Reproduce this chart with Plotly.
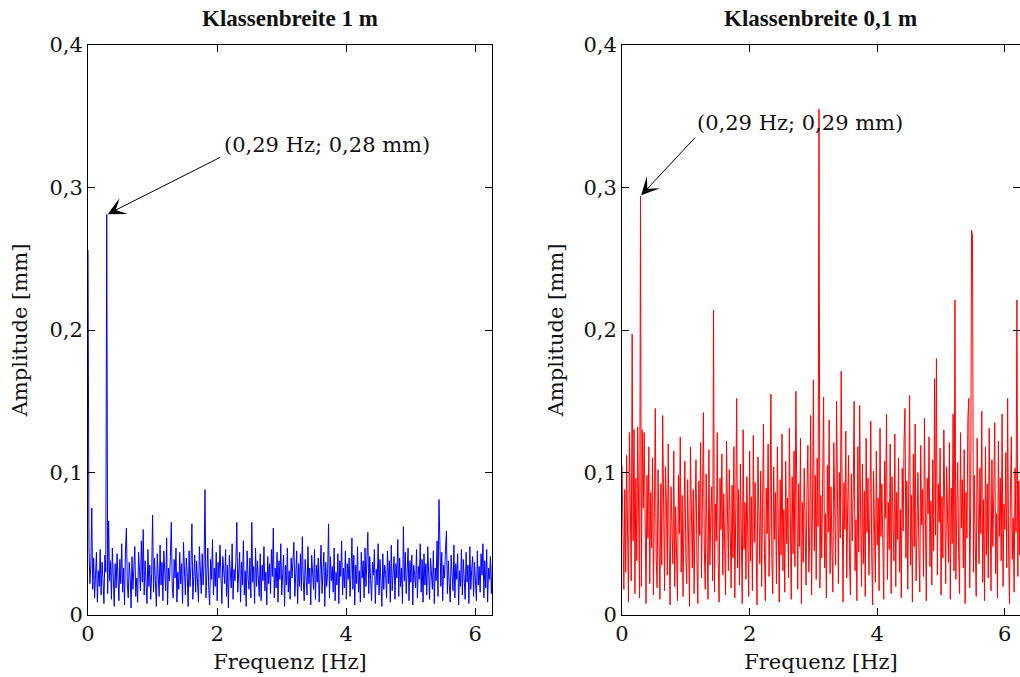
import numpy as np
import plotly.graph_objects as go

# Frequency resolution of both amplitude spectra (Hz)
df_hz = 0.0145

# Amplitude spectrum, class width 1 m (values in µm)
amp_1m_um = [
    256, 48, 22, 35, 75, 18, 40, 12, 28, 44, 9, 31, 20, 46, 14, 37, 25, 8, 42, 30,
    281, 15, 66, 24, 38, 11, 47, 29, 6, 36, 19, 43, 27, 10, 39, 22, 50, 16, 33, 7,
    45, 61, 21, 12, 37, 28, 5, 41, 18, 34, 48, 13, 26, 9, 44, 31, 17, 52, 23, 60,
    14, 38, 27, 8, 46, 20, 35, 11, 29, 70, 16, 40, 24, 6, 43, 32, 13, 49, 21, 37,
    10, 45, 28, 17, 54, 7, 33, 24, 41, 65, 19, 12, 39, 26, 47, 9, 30, 18, 44, 22,
    36, 8, 51, 25, 14, 40, 29, 6, 45, 20, 34, 64, 11, 27, 42, 16, 38, 23, 9, 48,
    31, 15, 43, 21, 36, 88, 12, 28, 47, 18, 7, 39, 25, 53, 14, 33, 20, 44, 10, 37,
    26, 49, 17, 8, 41, 30, 22, 46, 13, 35, 5, 42, 27, 19, 50, 11, 32, 24, 38, 65,
    16, 29, 44, 9, 37, 21, 52, 14, 31, 6, 45, 26, 18, 40, 12, 65, 23, 34, 8, 47,
    20, 38, 28, 13, 43, 10, 35, 24, 48, 17, 30, 7, 41, 22, 36, 15, 46, 27, 61, 12,
    33, 19, 44, 9, 38, 25, 50, 14, 29, 42, 6, 35, 21, 47, 16, 31, 11, 40, 26, 37,
    51, 13, 28, 45, 8, 36, 20, 43, 17, 55, 24, 10, 39, 30, 14, 48, 22, 33, 7, 42,
    27, 18, 46, 11, 35, 23, 40, 9, 31, 49, 15, 26, 44, 6, 37, 20, 29, 64, 12, 41,
    24, 34, 16, 47, 10, 30, 21, 43, 8, 38, 27, 52, 14, 33, 19, 45, 11, 36, 25, 40,
    13, 29, 54, 18, 42, 7, 35, 22, 48, 16, 31, 9, 44, 26, 38, 12, 47, 20, 34, 58,
    15, 41, 25, 10, 37, 28, 46, 8, 32, 21, 50, 14, 39, 24, 6, 43, 18, 35, 29, 12,
    45, 22, 38, 9, 49, 17, 30, 41, 11, 36, 26, 53, 13, 40, 20, 33, 8, 62, 24, 44,
    15, 31, 47, 10, 38, 23, 42, 7, 35, 28, 19, 46, 12, 34, 25, 50, 16, 39, 9, 43,
    21, 36, 14, 48, 27, 11, 40, 30, 18, 45, 8, 33, 24, 52, 13, 81, 37, 20, 44, 10,
    35, 26, 47, 59, 15, 38, 22, 9, 42, 29, 17, 49, 12, 36, 25, 43, 7, 31, 20, 46,
    14, 39, 27, 11, 44, 23, 35, 8, 48, 18, 32, 41, 13, 37, 24, 10, 45, 21, 34, 16,
    43, 28, 50, 12, 38, 19, 46, 9, 33, 25, 41, 15, 36,
]

# Amplitude spectrum, class width 0.1 m (values in µm)
amp_01m_um = [
    105, 62, 18, 88, 30, 112, 45, 9, 128, 70, 24, 197, 52, 130, 15, 96, 38, 132, 60, 12,
    294, 20, 130, 75, 128, 35, 8, 98, 54, 118, 22, 86, 47, 110, 14, 72, 145, 40, 19, 102,
    66, 11, 92, 35, 140, 58, 17, 104, 80, 28, 120, 49, 7, 90, 63, 36, 115, 20, 76, 44,
    10, 98, 57, 125, 30, 84, 13, 69, 108, 41, 22, 95, 61, 6, 118, 50, 33, 88, 15, 73,
    109, 39, 8, 94, 56, 121, 26, 81, 142, 47, 18, 99, 64, 11, 116, 35, 70, 90, 24, 214,
    16, 78, 52, 128, 37, 9, 96, 60, 113, 28, 85, 43, 14, 122, 67, 31, 102, 55, 19, 91,
    40, 118, 12, 74, 152, 33, 88, 21, 106, 58, 8, 130, 46, 79, 25, 97, 64, 13, 115, 38,
    83, 17, 126, 51, 93, 29, 7, 111, 62, 36, 101, 20, 77, 134, 44, 10, 89, 57, 120, 27,
    68, 155, 39, 15, 104, 53, 86, 22, 118, 61, 9, 95, 42, 127, 31, 74, 16, 108, 50, 82,
    26, 131, 59, 11, 97, 43, 115, 34, 157, 70, 18, 92, 48, 124, 8, 79, 37, 103, 63, 21,
    88, 119, 30, 56, 140, 14, 77, 165, 45, 98, 25, 110, 62, 355, 19, 84, 40, 126, 153, 33,
    71, 12, 105, 58, 137, 29, 90, 47, 16, 121, 66, 35, 150, 80, 22, 100, 54, 171, 41, 9,
    93, 60, 129, 26, 75, 112, 38, 14, 99, 52, 85, 150, 31, 67, 10, 118, 44, 147, 72, 20,
    106, 36, 87, 13, 124, 58, 96, 28, 70, 136, 42, 7, 101, 64, 23, 115, 49, 82, 17, 131,
    55, 92, 33, 11, 108, 68, 141, 25, 79, 46, 120, 15, 97, 61, 38, 127, 20, 86, 53, 110,
    30, 74, 12, 103, 59, 122, 145, 40, 94, 18, 67, 154, 35, 84, 9, 113, 48, 134, 24, 76,
    100, 43, 16, 119, 63, 88, 27, 138, 52, 10, 96, 71, 125, 34, 80, 21, 109, 45, 166, 56,
    180, 28, 92, 65, 117, 14, 83, 40, 130, 58, 22, 104, 76, 37, 121, 11, 89, 50, 141, 31,
    221, 25, 72, 107, 44, 15, 128, 61, 95, 33, 116, 8, 86, 54, 138, 152, 19, 77, 270, 266,
    30, 98, 47, 13, 124, 69, 36, 103, 57, 143, 23, 81, 10, 118, 42, 92, 26, 131, 64, 17,
    109, 48, 85, 135, 29, 71, 12, 122, 55, 96, 38, 141, 20, 78, 60, 114, 33, 152, 45, 8,
    87, 125, 39, 68, 16, 103, 58, 221, 27, 94, 42, 118, 70,
]

# Marked peak (index into the spectra)
peak_idx = 20

titles = ["Klassenbreite 1 m", "Klassenbreite 0,1 m"]
x_title = "Frequenz [Hz]"
y_title = "Amplitude [mm]"
x_ticks = [0, 2, 4, 6]
y_ticks = [0, 0.1, 0.2, 0.3, 0.4]

FONT = "DejaVu Serif"
TITLE_FONT = "Liberation Serif"
TXT = "#111111"

amp_1m = np.array(amp_1m_um) / 1000.0
amp_01m = np.array(amp_01m_um) / 1000.0
freq = np.arange(len(amp_1m)) * df_hz


def fmt(v):
    return f"{v:.2f}".replace(".", ",")


fig = go.Figure()
fig.add_trace(go.Scatter(x=freq, y=amp_1m, mode="lines",
                         line=dict(color="#0000ff", width=1),
                         xaxis="x", yaxis="y", showlegend=False))
fig.add_trace(go.Scatter(x=freq, y=amp_01m, mode="lines",
                         line=dict(color="#ff0000", width=1),
                         xaxis="x2", yaxis="y2", showlegend=False))

axis_common = dict(
    showline=True, linecolor="black", linewidth=1, mirror="ticks",
    ticks="inside", ticklen=7, tickcolor="black", tickwidth=1,
    showgrid=False, zeroline=False,
    tickfont=dict(family=FONT, size=21, color=TXT),
    automargin=False,
)
title_font = dict(family=FONT, size=21, color=TXT)

xdom1 = [0.0863, 0.4824]
xdom2 = [0.6098, 1.0]
ydom = [0.0916, 0.9335]
fig.update_layout(
    width=1020, height=677,
    margin=dict(l=0, r=0, t=0, b=0),
    paper_bgcolor="white", plot_bgcolor="white",
    separators=",.",
    xaxis=dict(domain=xdom1, range=[0, 6.26], tickvals=x_ticks, anchor="y",
               title=dict(text=x_title, standoff=9, font=title_font),
               **axis_common),
    yaxis=dict(domain=ydom, range=[0, 0.4], tickvals=y_ticks, anchor="x",
               title=dict(text=y_title, standoff=16, font=title_font),
               **axis_common),
    xaxis2=dict(domain=xdom2, range=[0, 6.24], tickvals=x_ticks, anchor="y2",
                title=dict(text=x_title, standoff=9, font=title_font),
                **axis_common),
    yaxis2=dict(domain=ydom, range=[0, 0.4], tickvals=y_ticks, anchor="x2",
                title=dict(text=y_title, standoff=14, font=title_font),
                **axis_common),
)

# Panel titles
for dom, t in [(xdom1, titles[0]), (xdom2, titles[1])]:
    fig.add_annotation(x=(dom[0] + dom[1]) / 2, y=1 - 19 / 677,
                       xref="paper", yref="paper", xanchor="center",
                       yanchor="middle", text=f"<b>{t}</b>", showarrow=False,
                       font=dict(family=TITLE_FONT, size=23, color=TXT))

# Peak markers: arrow to the peak and label with its coordinates
panels = [("x", "y", amp_1m, 115, -58, 2.08, 0.330),
          ("x2", "y2", amp_01m, 56, -60, 1.14, 0.345)]
for xr, yr, amp, ax_px, ay_px, tx, ty in panels:
    pf, pa = freq[peak_idx], amp[peak_idx]
    fig.add_annotation(x=pf, y=pa, xref=xr, yref=yr, text="", showarrow=True,
                       ax=ax_px, ay=ay_px, arrowhead=3, arrowsize=3,
                       arrowwidth=1, arrowcolor="black", standoff=1)
    fig.add_annotation(x=tx, y=ty, xref=xr, yref=yr,
                       text=f"({fmt(pf)} Hz; {fmt(pa)} mm)", showarrow=False,
                       xanchor="left", yanchor="middle",
                       font=dict(family=FONT, size=21, color=TXT))

fig.write_html("out.html")
